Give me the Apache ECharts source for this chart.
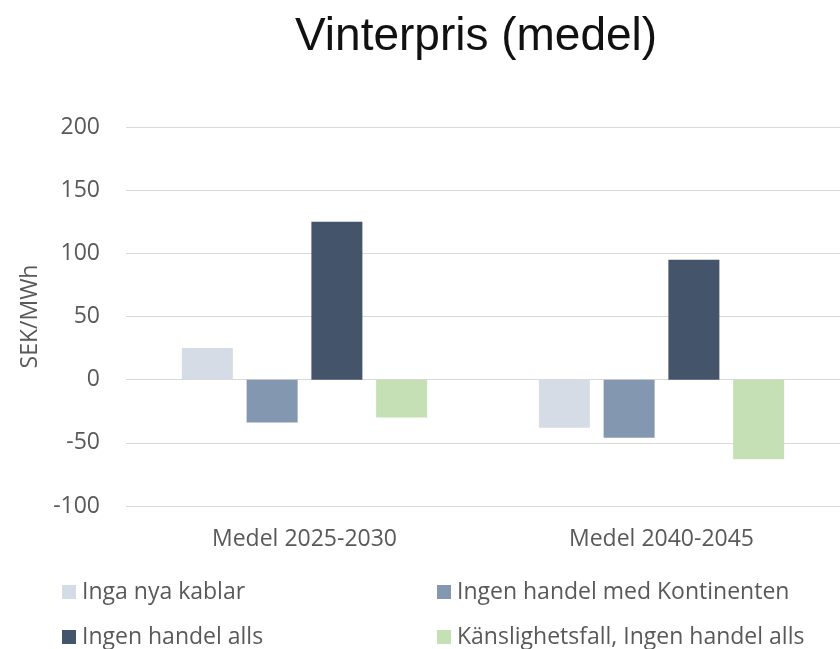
<!DOCTYPE html>
<html>
<head>
<meta charset="utf-8">
<script src="https://cdn.jsdelivr.net/npm/echarts@6/dist/echarts.min.js"></script>
<style>
  html, body { margin: 0; padding: 0; background: #fff; }
  #chart { width: 840px; height: 649px; }
</style>
</head>
<body>
<div id="chart"></div>
<script>
    // data
    var categories = ['Medel 2025-2030', 'Medel 2040-2045'];
    var seriesNames = ['Inga nya kablar', 'Ingen handel med Kontinenten', 'Ingen handel alls', 'Känslighetsfall, Ingen handel alls'];
    var ingaNyaKablar = [25, -38];
    var ingenHandelKontinenten = [-34, -46];
    var ingenHandelAlls = [125, 95];
    var kanslighetsfall = [-30, -63];
    var yTicks = [-100, -50, 0, 50, 100, 150, 200];

    var colors = ['#d6dce5', '#8497b0', '#44546a', '#c5e0b4'];
    var values = [ingaNyaKablar, ingenHandelKontinenten, ingenHandelAlls, kanslighetsfall];
    var font = 'Open Sans';
    var grey = '#595959';

    var chart = echarts.init(document.getElementById('chart'));

    var series = seriesNames.map(function (name, i) {
        return {
            name: name,
            type: 'bar',
            data: values[i],
            barWidth: 51,
            barGap: '27%',
            itemStyle: { color: colors[i] }
        };
    });

    function legend(names, left) {
        return {
            data: names,
            orient: 'vertical',
            left: left,
            top: 580,
            padding: 0,
            icon: 'rect',
            itemWidth: 14,
            itemHeight: 14,
            itemGap: 21,
            textStyle: { fontFamily: font, fontSize: 23, color: grey, lineHeight: 24, padding: [0, 0, 0, 1] }
        };
    }

    chart.setOption({
        backgroundColor: '#fff',
        animation: false,
        title: {
            text: 'Vinterpris (medel)',
            left: 290,
            top: 9,
            textStyle: { fontFamily: 'Liberation Sans', fontSize: 46, fontWeight: 'normal', color: '#111' }
        },
        legend: [
            legend([seriesNames[0], seriesNames[2]], 62),
            legend([seriesNames[1], seriesNames[3]], 437)
        ],
        grid: { left: 126, top: 127, width: 720, height: 379, containLabel: false },
        xAxis: {
            type: 'category',
            data: categories,
            axisLine: { show: false, onZero: false },
            axisTick: { show: false },
            axisLabel: { fontFamily: font, fontSize: 23, color: grey, margin: 22 },
            splitLine: { show: false }
        },
        yAxis: {
            type: 'value',
            min: yTicks[0],
            max: yTicks[yTicks.length - 1],
            interval: 50,
            name: 'SEK/MWh',
            nameLocation: 'middle',
            nameGap: 75,
            nameTextStyle: { fontFamily: font, fontSize: 23, color: grey },
            axisLine: { show: false },
            axisTick: { show: false },
            axisLabel: { fontFamily: font, fontSize: 23, color: grey, margin: 26 },
            splitLine: { lineStyle: { color: '#d9d9d9', width: 1 } }
        },
        series: series
    });
</script>
</body>
</html>
